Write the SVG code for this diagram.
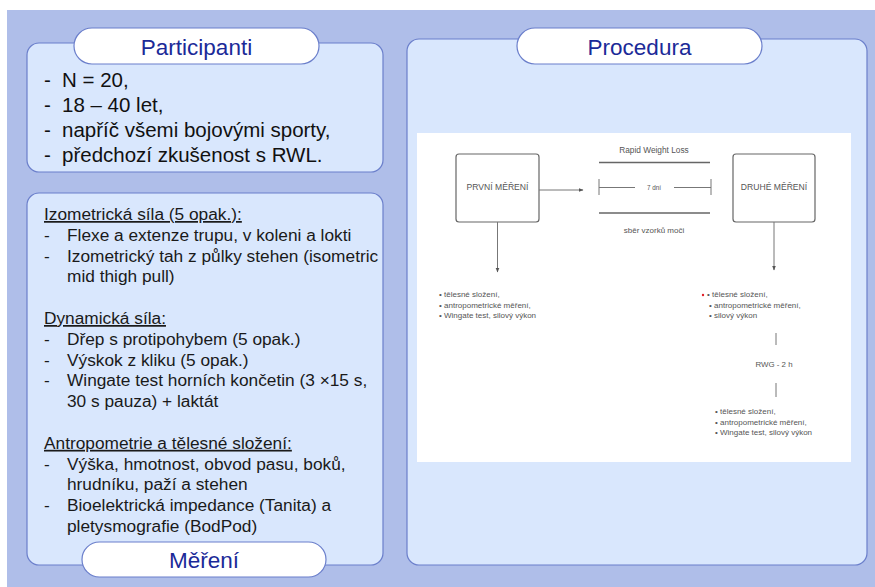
<svg xmlns="http://www.w3.org/2000/svg" width="875" height="587" viewBox="0 0 875 587">
<style>
.panel{fill:#D9E7FD;stroke:#6B7FCB;stroke-width:1.2}
.pill{fill:#FFFFFF;stroke:#6B7FCB;stroke-width:1.2}
.title{font-family:"Liberation Sans",Arial,sans-serif;font-size:22.5px;fill:#1B2A98;text-anchor:middle}
.t1{font-family:"Liberation Sans",Arial,sans-serif;font-size:20.5px;fill:#111}
.t2{font-family:"Liberation Sans",Arial,sans-serif;font-size:17.3px;fill:#1a1a1a}
.u{text-decoration:underline}
.fc{font-family:"Liberation Sans",Arial,sans-serif;fill:#555}
.box{fill:#fff;stroke:#666;stroke-width:1.2}
.ln{stroke:#777;stroke-width:1;fill:none}
.lnb{stroke:#666;stroke-width:1.6;fill:none}
</style>
<defs>
<marker id="ah" viewBox="0 0 10 10" refX="9" refY="5" markerWidth="5" markerHeight="5" orient="auto">
<path d="M0,1 L10,5 L0,9 z" fill="#555"/>
</marker>
</defs>
<rect x="7" y="10" width="868" height="577" fill="#AFBEE9"/>

<g id="participanti">
<rect class="panel" x="27" y="43" width="356" height="129" rx="12"/>
<rect class="pill" x="74" y="28" width="245" height="36" rx="18"/>
<text class="title" x="196.5" y="54.5">Participanti</text>
<text class="t1" x="44" y="87">-</text><text class="t1" x="62" y="87">N = 20,</text>
<text class="t1" x="44" y="112">-</text><text class="t1" x="62" y="112">18 – 40 let,</text>
<text class="t1" x="44" y="137">-</text><text class="t1" x="62" y="137">napříč všemi bojovými sporty,</text>
<text class="t1" x="44" y="162">-</text><text class="t1" x="62" y="162">předchozí zkušenost s RWL.</text>
</g>

<g id="mereni">
<rect class="panel" x="27" y="193" width="356" height="372" rx="12"/>
<text class="t2 u" x="44" y="220">Izometrická síla (5 opak.):</text>
<text class="t2" x="44" y="240.8">-</text><text class="t2" x="67" y="240.8">Flexe a extenze trupu, v koleni a lokti</text>
<text class="t2" x="44" y="261.6">-</text><text class="t2" x="67" y="261.6">Izometrický tah z půlky stehen (isometric</text>
<text class="t2" x="67" y="282.4">mid thigh pull)</text>
<text class="t2 u" x="44" y="324">Dynamická síla:</text>
<text class="t2" x="44" y="344.8">-</text><text class="t2" x="67" y="344.8">Dřep s protipohybem (5 opak.)</text>
<text class="t2" x="44" y="365.6">-</text><text class="t2" x="67" y="365.6">Výskok z kliku (5 opak.)</text>
<text class="t2" x="44" y="386.4">-</text><text class="t2" x="67" y="386.4">Wingate test horních končetin (3 ×15 s,</text>
<text class="t2" x="67" y="407.2">30 s pauza) + laktát</text>
<text class="t2 u" x="44" y="448.8">Antropometrie a tělesné složení:</text>
<text class="t2" x="44" y="469.6">-</text><text class="t2" x="67" y="469.6">Výška, hmotnost, obvod pasu, boků,</text>
<text class="t2" x="67" y="490.4">hrudníku, paží a stehen</text>
<text class="t2" x="44" y="511.2">-</text><text class="t2" x="67" y="511.2">Bioelektrická impedance (Tanita) a</text>
<text class="t2" x="67" y="532">pletysmografie (BodPod)</text>
<rect class="pill" x="82" y="542" width="244" height="35" rx="17.5"/>
<text class="title" x="204" y="568">Měření</text>
</g>

<g id="procedura">
<rect class="panel" x="407" y="39" width="460" height="526" rx="12"/>
<rect class="pill" x="517" y="28" width="245" height="36" rx="18"/>
<text class="title" x="639.5" y="54.5">Procedura</text>
<rect x="417" y="133" width="434" height="329" fill="#FFFFFF"/>
</g>

<g id="prvni-mereni">
<rect class="box" x="456" y="154" width="83" height="68" rx="3"/>
<text class="fc" x="497.5" y="190" font-size="8.6" text-anchor="middle">PRVNÍ MĚŘENÍ</text>
</g>
<g id="druhe-mereni">
<rect class="box" x="733" y="154" width="82" height="68" rx="3"/>
<text class="fc" x="774" y="190" font-size="8.6" text-anchor="middle">DRUHÉ MĚŘENÍ</text>
</g>

<g id="rwl">
<text class="fc" x="654" y="152.5" font-size="8.3" text-anchor="middle">Rapid Weight Loss</text>
<line class="lnb" x1="599" y1="162.5" x2="710" y2="162.5"/>
<line class="ln" x1="599" y1="179" x2="599" y2="195"/>
<line class="ln" x1="599" y1="187.5" x2="635" y2="187.5"/>
<text class="fc" x="654" y="190" font-size="6.3" text-anchor="middle">7 dní</text>
<line class="ln" x1="674" y1="187.5" x2="711" y2="187.5"/>
<line class="ln" x1="711" y1="179" x2="711" y2="195"/>
<line class="lnb" x1="599" y1="213" x2="710" y2="213"/>
<text class="fc" x="654" y="233" font-size="8" text-anchor="middle">sběr vzorků moči</text>
</g>

<g id="bullets-1" class="fc" font-size="8">
<text x="439" y="297">• tělesné složení,</text>
<text x="439" y="307.5">• antropometrické měření,</text>
<text x="439" y="318">• Wingate test, silový výkon</text>
</g>
<g id="bullets-2" class="fc" font-size="8">
<circle cx="703" cy="295" r="1.2" fill="#E0202A"/>
<text x="707" y="297">• tělesné složení,</text>
<text x="709" y="307.5">• antropometrické měření,</text>
<text x="709" y="318">• silový výkon</text>
</g>
<g id="rwg">
<text class="fc" x="774" y="367" font-size="7.9" text-anchor="middle">RWG - 2 h</text>
</g>
<g id="bullets-3" class="fc" font-size="8">
<text x="715" y="414">• tělesné složení,</text>
<text x="715" y="424.5">• antropometrické měření,</text>
<text x="715" y="435">• Wingate test, silový výkon</text>
</g>

<g id="connectors">
<line class="ln" x1="539" y1="190" x2="583" y2="190" marker-end="url(#ah)"/>
<line class="ln" x1="497.5" y1="222" x2="497.5" y2="272" marker-end="url(#ah)"/>
<line class="ln" x1="774" y1="222" x2="774" y2="270" marker-end="url(#ah)"/>
<line class="ln" x1="776" y1="333" x2="776" y2="345"/>
<line class="ln" x1="776" y1="383" x2="776" y2="397"/>
</g>
</svg>
